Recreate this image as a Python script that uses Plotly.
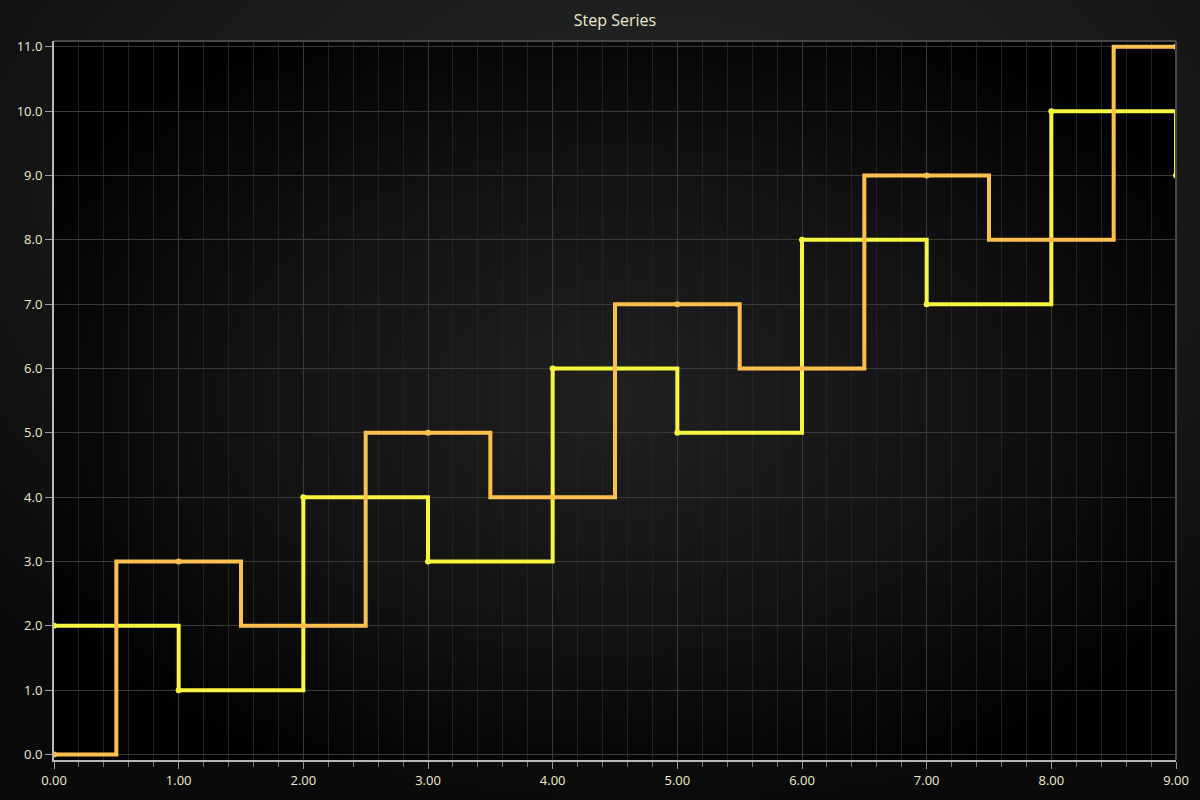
import base64
import plotly.graph_objects as go

# Data
x_values = [0, 1, 2, 3, 4, 5, 6, 7, 8, 9]
yellow_values = [2, 1, 4, 3, 6, 5, 8, 7, 10, 9]
orange_values = [0, 3, 2, 5, 4, 7, 6, 9, 8, 11]
x_tickvals = [0, 1, 2, 3, 4, 5, 6, 7, 8, 9]
y_tickvals = [0, 1, 2, 3, 4, 5, 6, 7, 8, 9, 10, 11]

W, H = 1200, 800
L, R, T, B = 54, 24, 41, 40
pw, ph = W - L - R, H - T - B


def svg_uri(svg):
    return "data:image/svg+xml;base64," + base64.b64encode(svg.encode()).decode()


paper_svg = f"""<svg xmlns='http://www.w3.org/2000/svg' width='{W}' height='{H}' viewBox='0 0 {W} {H}' preserveAspectRatio='none'>
<defs><radialGradient id='g' cx='0.55' cy='0.25' r='0.75'>
<stop offset='0' stop-color='#262728'/><stop offset='0.6' stop-color='#181818'/><stop offset='1' stop-color='#0a0a0a'/>
</radialGradient></defs><rect width='{W}' height='{H}' fill='url(#g)'/></svg>"""

plot_svg = f"""<svg xmlns='http://www.w3.org/2000/svg' width='{pw}' height='{ph}' viewBox='0 0 {pw} {ph}' preserveAspectRatio='none'>
<defs><radialGradient id='p' cx='0.5' cy='0.5' r='0.6'>
<stop offset='0' stop-color='#202020'/><stop offset='0.55' stop-color='#121212'/><stop offset='1' stop-color='#000000'/>
</radialGradient></defs><rect width='{pw}' height='{ph}' fill='url(#p)'/></svg>"""

fig = go.Figure()

fig.add_trace(go.Scatter(
    x=x_values, y=yellow_values, mode="lines+markers",
    line=dict(color="#F8F540", width=4, shape="hv"),
    marker=dict(color="#F8F540", size=6),
    showlegend=False,
))
fig.add_trace(go.Scatter(
    x=x_values, y=orange_values, mode="lines+markers",
    line=dict(color="#FDC04E", width=4, shape="hvh"),
    marker=dict(color="#FDC04E", size=6),
    showlegend=False,
))

tick_font = dict(family="Open Sans, Noto Sans, sans-serif", size=13, color="#EDEBCF")

fig.update_layout(
    width=W, height=H,
    margin=dict(l=L, r=R, t=T, b=B, pad=0),
    paper_bgcolor="#151515",
    plot_bgcolor="rgba(0,0,0,0)",
    title=dict(text="Step Series", x=0.5, xref="paper", xanchor="center", y=1 - 20 / H, yanchor="middle",
               font=dict(family="Open Sans, Noto Sans, sans-serif", size=16, color="#EDEBCF")),
    xaxis=dict(
        range=[0, 9], tickvals=x_tickvals, tickformat=".2f",
        showgrid=True, gridcolor="#3a3a3a", gridwidth=1,
        zeroline=False, showline=True, linecolor="#B8B8B8", linewidth=2,
        ticks="outside", ticklen=7, tickcolor="#9a9a9a", tickwidth=1,
        tickfont=tick_font,
        minor=dict(dtick=0.2, showgrid=True, gridcolor="#222222", gridwidth=1,
                   ticks="outside", ticklen=5, tickcolor="#7a7a7a"),
    ),
    yaxis=dict(
        range=[-0.085, 11.09], tickvals=y_tickvals, tickformat=".1f",
        showgrid=True, gridcolor="#3a3a3a", gridwidth=1,
        zeroline=False, showline=True, linecolor="#B8B8B8", linewidth=2,
        ticks="outside", ticklen=7, tickcolor="#9a9a9a", tickwidth=1,
        tickfont=tick_font,
    ),
    images=[
        dict(source=svg_uri(paper_svg), xref="paper", yref="paper",
             x=-L / pw, y=1 + T / ph, sizex=W / pw, sizey=H / ph,
             sizing="stretch", layer="below", xanchor="left", yanchor="top"),
        dict(source=svg_uri(plot_svg), xref="paper", yref="paper",
             x=0, y=1, sizex=1, sizey=1,
             sizing="stretch", layer="below", xanchor="left", yanchor="top"),
    ],
    shapes=[
        dict(type="line", xref="paper", yref="paper", x0=0, x1=1, y0=1, y1=1,
             line=dict(color="#484848", width=2), layer="above"),
        dict(type="line", xref="paper", yref="paper", x0=1, x1=1, y0=0, y1=1,
             line=dict(color="#484848", width=2), layer="above"),
    ],
)

fig.write_html("out.html")
